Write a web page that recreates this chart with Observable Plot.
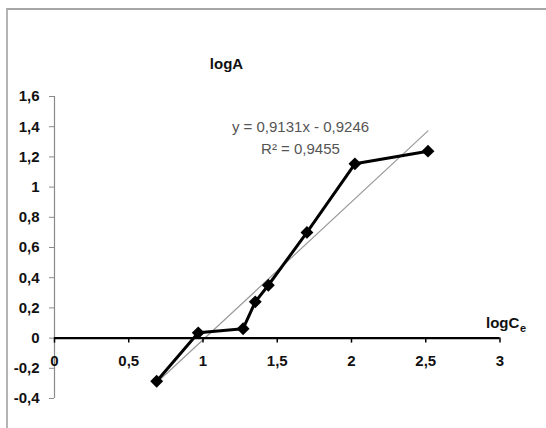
<!DOCTYPE html>
<html>
<head>
<meta charset="utf-8">
<script src="https://cdn.jsdelivr.net/npm/d3@7"></script>
<script src="https://cdn.jsdelivr.net/npm/@observablehq/plot@0.6"></script>
<style>
  html, body { margin: 0; padding: 0; background: #fff; }
  #wrap { position: relative; width: 546px; height: 428px; overflow: hidden; }
  #border { position: absolute; left: 6px; top: 8px; width: 600px; height: 500px;
            border-top: 2px solid #a6a6a6; border-left: 2px solid #b4b4b4; pointer-events: none; }
</style>
</head>
<body>
<div id="wrap"><div id="border"></div></div>
<script>
// Data
const logCe = [0.688, 0.968, 1.27, 1.352, 1.44, 1.70, 2.023, 2.515];
const logA  = [-0.286, 0.035, 0.062, 0.24, 0.35, 0.70, 1.154, 1.238];
// trend line endpoints (y = 0,9131x - 0,9246)
const trendX = [0.688, 2.515];
const trendY = [-0.296, 1.372];
const xTicks = [0, 0.5, 1, 1.5, 2, 2.5, 3];
const yTicks = [-0.4, -0.2, 0, 0.2, 0.4, 0.6, 0.8, 1, 1.2, 1.4, 1.6];
const titleText = "logA";
const xLabelMain = "logC";
const xLabelSub = "e";
const eqLine1 = "y = 0,9131x - 0,9246";
const eqLine2 = "R\u00b2 = 0,9455";

const points = logCe.map((x, i) => ({x, y: logA[i]}));
const trend = trendX.map((x, i) => ({x, y: trendY[i]}));
const fmt = d => String(+d.toFixed(1)).replace(".", ",");

const bold = {fontWeight: "bold", fontSize: 15, fill: "#111"};
const eqStyle = {fontSize: 15, fill: "#555", textAnchor: "middle", fontFamily: "Liberation Sans, Arial, sans-serif"};

const chart = Plot.plot({
  width: 546,
  height: 428,
  marginLeft: 54,
  marginRight: 46.5,
  marginTop: 96,
  marginBottom: 30,
  style: {fontFamily: "Liberation Sans, Arial, sans-serif", background: "transparent"},
  x: {type: "linear", domain: [0, 3], axis: null},
  y: {type: "linear", domain: [-0.4, 1.6], axis: null},
  marks: [
    // y axis
    Plot.ruleX([0], {stroke: "#8a8a8a", strokeWidth: 1.2}),
    Plot.axisY({ticks: yTicks, tickSize: 5, tickPadding: 10, tickFormat: fmt, stroke: "#8a8a8a",
                label: null, fontWeight: "bold", fontSize: 15, color: "#111"}),
    // trend line
    Plot.line(trend, {x: "x", y: "y", stroke: "#9a9a9a", strokeWidth: 1.2}),
    // x axis at y = 0
    Plot.ruleY([0], {stroke: "#000", strokeWidth: 2.2}),
    Plot.ruleX(xTicks, {x: d => d, y1: 0, y2: 0, insetBottom: -5, stroke: "#000", strokeWidth: 1.5}),
    Plot.text(xTicks, {x: d => d, y: 0, dy: 23, text: fmt, ...bold}),
    // data
    Plot.line(points, {x: "x", y: "y", stroke: "#000", strokeWidth: 3}),
    Plot.dot(points, {x: "x", y: "y", symbol: "diamond2", r: 5.8, fill: "#000", stroke: "none"}),
    // labels
    Plot.text([titleText], {frameAnchor: "top-left", textAnchor: "middle", dx: 172, dy: -38, text: d => d, ...bold}),
    Plot.text([xLabelMain], {x: 3, y: 0, dx: -14, dy: -15, textAnchor: "start", text: d => d, ...bold}),
    Plot.text([xLabelSub], {x: 3, y: 0, dx: 20, dy: -10, textAnchor: "start", text: d => d, fontWeight: "bold", fontSize: 11, fill: "#111"}),
    Plot.text([eqLine1], {frameAnchor: "top-left", dx: 246, dy: 25, text: d => d, ...eqStyle}),
    Plot.text([eqLine2], {frameAnchor: "top-left", dx: 246, dy: 47, text: d => d, ...eqStyle})
  ]
});
chart.style.position = "absolute";
chart.style.left = "0px";
chart.style.top = "0px";
document.getElementById("wrap").prepend(chart);
</script>
</body>
</html>
